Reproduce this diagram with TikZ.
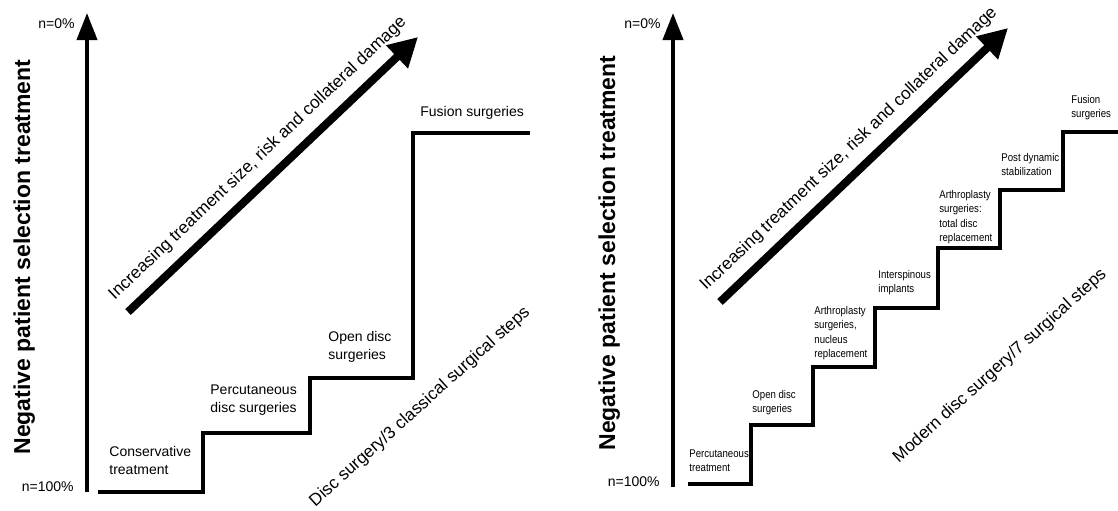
\documentclass[tikz,border=0pt]{standalone}
\usepackage{fontspec}
\setmainfont{Liberation Sans}
\newfontfamily\narrowsf[FakeStretch=0.86]{Liberation Sans}
\usetikzlibrary{arrows.meta}

\begin{document}
\begin{tikzpicture}[x=0.5pt, y=-0.5pt,
		yaxisline/.style={line width=2pt, -{Triangle[length=13.5pt, width=10pt]}},
		riskarrow/.style={line width=4pt, -{Triangle[length=14.5pt, width=15pt]}},
		stairline/.style={line width=2pt},
		steptext/.style={anchor=north west, inner sep=0pt, align=left, font=\fontsize{7}{9}\selectfont},
		narrowtext/.style={anchor=north west, inner sep=0pt, align=left, font=\narrowsf\fontsize{5.6}{7.2}\selectfont},
		difftext/.style={font=\fontsize{8.6}{10}\selectfont},
		ylabel/.style={rotate=90, anchor=base, font=\bfseries\fontsize{11.5}{13}\selectfont},
		endlabel/.style={anchor=east, inner sep=0pt, font=\fontsize{7}{8}\selectfont}]

	\useasboundingbox (0,0) rectangle (1118,510);

	% left panel, 3 classical steps
	\coordinate (lbase) at (87,492);
	\coordinate (ltip) at (87,13);
	\draw[yaxisline] (lbase) -- (ltip);
	\node[endlabel] (lzero) at (75,24) {n=0\%};
	\node[endlabel] (lfull) at (74,487) {n=100\%};
	\node[ylabel] (lylab) at (30,257) {Negative patient selection treatment};

	\coordinate (lrs) at (128,312);
	\coordinate (lre) at (418,37);
	\draw[riskarrow] (lrs) -- node[difftext, midway, sloped, above=5pt, inner sep=0pt] (lrisk) {Increasing treatment size, risk and collateral damage} (lre);

	\draw[stairline] (98,492) -| (203,433) -| (310,378) -| (413,133) -- (530,133);

	\node[steptext] (lcons) at (109,446) {Conservative\\treatment};
	\node[steptext] (lperc) at (210,384) {Percutaneous\\disc surgeries};
	\node[steptext] (lopen) at (328,331) {Open disc\\surgeries};
	\node[steptext] (lfus) at (420,106) {Fusion surgeries};
	\node[difftext, rotate=42] (lsteps) at (420,407) {Disc surgery/3 classical surgical steps};

	% right panel, 7 modern steps
	\coordinate (rbase) at (673,487);
	\coordinate (rtip) at (673,13);
	\draw[yaxisline] (rbase) -- (rtip);
	\node[endlabel] (rzero) at (661,24) {n=0\%};
	\node[endlabel] (rfull) at (660,482) {n=100\%};
	\node[ylabel] (rylab) at (615,253) {Negative patient selection treatment};

	\coordinate (rrs) at (720,302);
	\coordinate (rre) at (1008,28);
	\draw[riskarrow] (rrs) -- node[difftext, midway, sloped, above=5pt, inner sep=0pt] (rrisk) {Increasing treatment size, risk and collateral damage} (rre);

	\draw[stairline] (688,484) \foreach \x/\y in {751/425, 813/367, 875/308, 938/248, 1000/190, 1063/132}{ -| (\x,\y) } -- (1118,132);

	\node[narrowtext] (rperc) at (689,449) {Percutaneous\\treatment};
	\node[narrowtext] (ropen) at (752,390) {Open disc\\surgeries};
	\node[narrowtext] (rnucl) at (814,306) {Arthroplasty\\surgeries,\\nucleus\\replacement};
	\node[narrowtext] (rinter) at (878,270) {Interspinous\\implants};
	\node[narrowtext] (rtotal) at (939,190) {Arthroplasty\\surgeries:\\total disc\\replacement};
	\node[narrowtext] (rpost) at (1001,153) {Post dynamic\\stabilization};
	\node[narrowtext] (rfus) at (1071,95) {Fusion\\surgeries};
	\node[difftext, rotate=42] (rsteps) at (1000,366) {Modern disc surgery/7 surgical steps};
\end{tikzpicture}
\end{document}
